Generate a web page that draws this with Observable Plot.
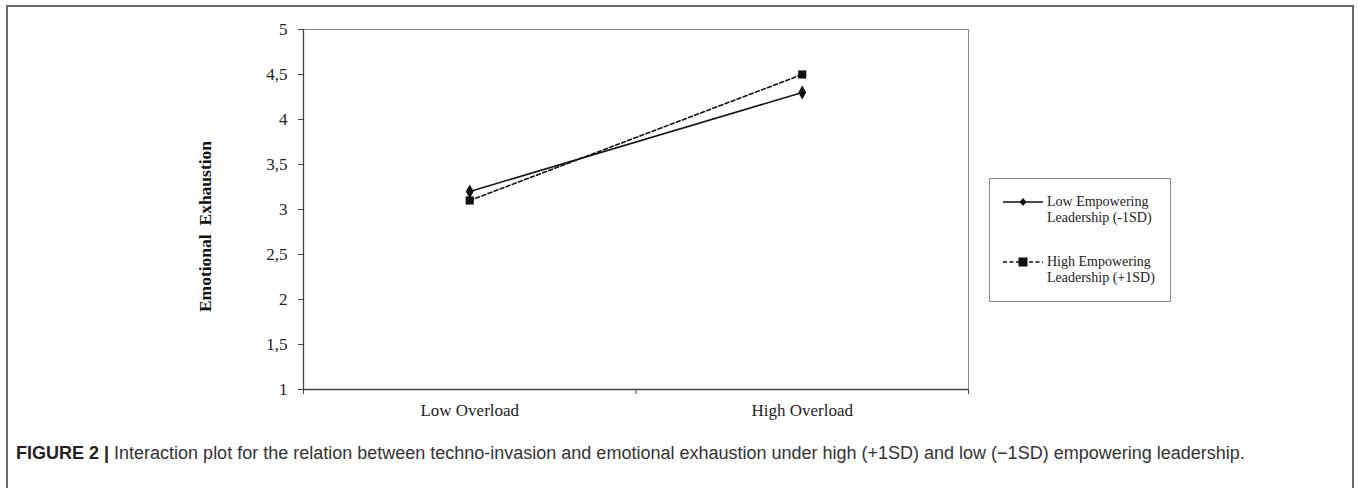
<!DOCTYPE html>
<html>
<head>
<meta charset="utf-8">
<script src="https://cdn.jsdelivr.net/npm/d3@7"></script>
<script src="https://cdn.jsdelivr.net/npm/@observablehq/plot@0.6"></script>
<style>
  html, body { margin: 0; padding: 0; background: #fff; }
  #page { position: relative; width: 1358px; height: 488px; overflow: hidden; background: #fff; }
  #border { position: absolute; left: 6px; top: 5px; width: 1348px; height: 500px; border: 2px solid #6a6a6a; box-sizing: border-box; }
  #chart { position: absolute; left: 0; top: 0; }
  #legend { position: absolute; left: 989px; top: 178px; width: 182px; height: 124px; border: 1px solid #8a8a8a; box-sizing: border-box; font-family: "Liberation Serif", serif; font-size: 14px; color: #222; }
  .entry { position: absolute; left: 13px; display: flex; align-items: flex-start; }
  .entry svg { flex: none; }
  .entry .lbl { margin-left: 4px; line-height: 16px; }
  #caption { position: absolute; left: 16px; top: 443px; font-family: "Liberation Sans", Arial, sans-serif; font-size: 18px; color: #333; white-space: nowrap; }
  #caption b { color: #222; }
</style>
</head>
<body>
<div id="page">
  <div id="border"></div>
  <div id="chart"></div>
  <div id="legend"></div>
  <div id="caption"><b>FIGURE 2 |</b> Interaction plot for the relation between techno-invasion and emotional exhaustion under high (+1SD) and low (−1SD) empowering leadership.</div>
</div>
<script>
// ---- data ----
const categories = ["Low Overload", "High Overload"];
const seriesNames = ["Low Empowering Leadership (-1SD)", "High Empowering Leadership (+1SD)"];
const lowEmpowering = [3.2, 4.3];
const highEmpowering = [3.1, 4.5];
const yTicks = [1, 1.5, 2, 2.5, 3, 3.5, 4, 4.5, 5];
const yLabel = "Emotional  Exhaustion";
const legendLines = [["Low Empowering", "Leadership (-1SD)"], ["High Empowering", "Leadership (+1SD)"]];

const rows = [];
categories.forEach((c, i) => {
  rows.push({series: seriesNames[0], pos: i + 0.5, cat: c, value: lowEmpowering[i]});
  rows.push({series: seriesNames[1], pos: i + 0.5, cat: c, value: highEmpowering[i]});
});
const lowRows = rows.filter(d => d.series === seriesNames[0]);
const highRows = rows.filter(d => d.series === seriesNames[1]);
const boundaries = d3.range(categories.length + 1);
const fmt = d => String(d).replace(".", ",");

const chart = Plot.plot({
  width: 1358,
  height: 430,
  marginLeft: 303,
  marginRight: 390,
  marginTop: 29,
  marginBottom: 41,
  style: {fontFamily: "Liberation Serif, serif", fontSize: "17px", color: "#222", background: "transparent"},
  x: {type: "linear", domain: [0, categories.length], axis: null},
  y: {domain: [1, 5], axis: null},
  marks: [
    Plot.frame({stroke: "#8a8a8a", strokeWidth: 1}),
    // y axis
    Plot.ruleX([0], {stroke: "#444", strokeWidth: 1.3}),
    Plot.axisY({ticks: yTicks, tickFormat: fmt, tickSize: 5, tickPadding: 11, stroke: "#444", fontSize: 17, label: null}),
    // x axis
    Plot.ruleY([1], {stroke: "#444", strokeWidth: 1.3}),
    Plot.axisX({ticks: categories.map((c, i) => i + 0.5), tickFormat: (d) => categories[Math.floor(d)], tickSize: 0, tickPadding: 14, fontSize: 17, label: null}),
    Plot.axisX({ticks: boundaries, tickFormat: () => "", tickSize: 5, stroke: "#444", label: null}),
    // y label
    Plot.text([yLabel], {frameAnchor: "left", text: d => d, rotate: -90, textAnchor: "middle", dx: -98, dy: 17, fontWeight: "bold", fontSize: 17.5, fill: "#111"}),
    // lines
    Plot.line(lowRows, {x: "pos", y: "value", stroke: "#111", strokeWidth: 1.6}),
    Plot.line(highRows, {x: "pos", y: "value", stroke: "#111", strokeWidth: 1.6, strokeDasharray: "4,2.5"}),
    Plot.dot(lowRows, {x: "pos", y: "value", symbol: "diamond", r: 4.2, fill: "#111", stroke: "none"}),
    Plot.dot(highRows, {x: "pos", y: "value", symbol: "square", r: 4.6, fill: "#111", stroke: "none"})
  ]
});
document.getElementById("chart").appendChild(chart);

// ---- legend ----
const legend = document.getElementById("legend");
const tops = [15, 75];
legendLines.forEach((lines, i) => {
  const e = document.createElement("div");
  e.className = "entry";
  e.style.top = tops[i] + "px";
  const dash = i === 1 ? ' stroke-dasharray="4,2.5"' : '';
  const marker = i === 0
    ? '<path d="M20,4 L23.5,8 L20,12 L16.5,8 Z" fill="#111"/>'
    : '<rect x="15.5" y="3.5" width="9" height="9" fill="#111"/>';
  e.innerHTML = `<svg width="40" height="16"><line x1="0" x2="40" y1="8" y2="8" stroke="#111" stroke-width="1.6"${dash}/>${marker}</svg>` +
    `<div class="lbl">${lines[0]}<br>${lines[1]}</div>`;
  legend.appendChild(e);
});
</script>
</body>
</html>
